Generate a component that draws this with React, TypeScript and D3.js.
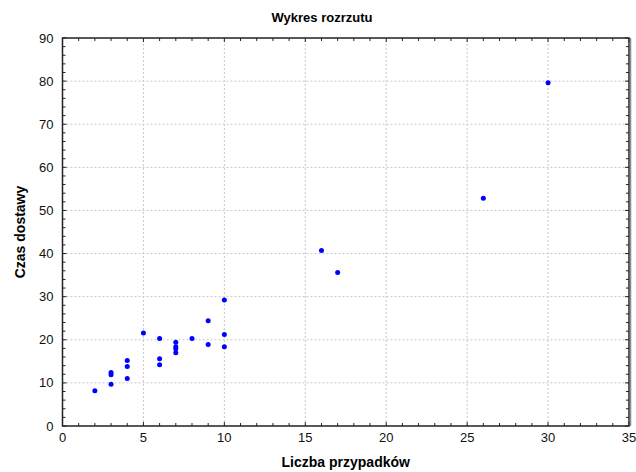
import React, { useEffect, useRef } from "react";
import * as d3 from "d3";

// Liczba przypadków vs czas dostawy
const cases = [2, 3, 3, 3, 4, 4, 4, 5, 6, 6, 6, 7, 7, 7, 7, 8, 9, 9, 10, 10, 10, 16, 17, 26, 30];
const times = [8.2, 9.7, 11.9, 12.4, 11.0, 13.8, 15.2, 21.6, 20.3, 15.6, 14.2, 19.4, 18.4, 17.9, 17.0, 20.3, 24.4, 18.9, 29.2, 21.2, 18.4, 40.7, 35.6, 52.8, 79.6];
const xTicks = [0, 5, 10, 15, 20, 25, 30, 35];
const yTicks = [0, 10, 20, 30, 40, 50, 60, 70, 80, 90];

const W = 636;
const H = 472;

const App = () => {
  const ref = useRef<SVGSVGElement | null>(null);

  useEffect(() => {
    const svg = d3.select(ref.current);
    svg.selectAll("*").remove();

    const margin = { top: 38, right: 7, bottom: 46, left: 62.5 };
    const x = d3.scaleLinear().domain([0, 35]).range([margin.left, W - margin.right]);
    const y = d3.scaleLinear().domain([0, 90]).range([H - margin.bottom, margin.top]);
    const font = "'Liberation Sans', Arial, sans-serif";

    svg.append("rect").attr("width", W).attr("height", H).attr("fill", "white");

    // grid
    const grid = svg.append("g").attr("stroke", "#c8c8c8").attr("stroke-dasharray", "2,2").attr("stroke-width", 1);
    xTicks.slice(1, -1).forEach((t) => {
      grid.append("line").attr("x1", x(t)).attr("x2", x(t)).attr("y1", y(0)).attr("y2", y(90));
    });
    yTicks.slice(1, -1).forEach((t) => {
      grid.append("line").attr("x1", x(0)).attr("x2", x(35)).attr("y1", y(t)).attr("y2", y(t));
    });

    // ticks (inside)
    const ticks = svg.append("g").attr("stroke", "#222").attr("stroke-width", 1);
    d3.range(0, 36, 1).forEach((t) => {
      const len = t % 5 === 0 ? 4 : 3;
      ticks.append("line").attr("x1", x(t)).attr("x2", x(t)).attr("y1", y(0)).attr("y2", y(0) - len);
      ticks.append("line").attr("x1", x(t)).attr("x2", x(t)).attr("y1", y(90)).attr("y2", y(90) + len);
    });
    d3.range(0, 91, 2).forEach((t) => {
      const len = t % 10 === 0 ? 4 : 3;
      ticks.append("line").attr("x1", x(0)).attr("x2", x(0) + len).attr("y1", y(t)).attr("y2", y(t));
      ticks.append("line").attr("x1", x(35)).attr("x2", x(35) - len).attr("y1", y(t)).attr("y2", y(t));
    });

    // frame
    svg
      .append("rect")
      .attr("x", x(0))
      .attr("y", y(90))
      .attr("width", x(35) - x(0))
      .attr("height", y(0) - y(90))
      .attr("fill", "none")
      .attr("stroke", "#222")
      .attr("stroke-width", 1.5);
    svg
      .append("line")
      .attr("x1", x(35) + 1.5)
      .attr("x2", x(35) + 1.5)
      .attr("y1", y(90))
      .attr("y2", y(0))
      .attr("stroke", "#8a8a8a")
      .attr("stroke-width", 1.5);

    // tick labels
    svg
      .append("g")
      .selectAll("text")
      .data(xTicks)
      .join("text")
      .attr("x", (d) => x(d))
      .attr("y", y(0) + 16)
      .attr("text-anchor", "middle")
      .style("font-family", font)
      .style("font-size", "13px")
      .attr("fill", "#111")
      .text((d) => d);

    svg
      .append("g")
      .selectAll("text")
      .data(yTicks)
      .join("text")
      .attr("x", x(0) - 9)
      .attr("y", (d) => y(d) + 4.5)
      .attr("text-anchor", "end")
      .style("font-family", font)
      .style("font-size", "13px")
      .attr("fill", "#111")
      .text((d) => d);

    // titles
    svg
      .append("text")
      .attr("x", 322)
      .attr("y", 22)
      .attr("text-anchor", "middle")
      .style("font-family", font)
      .style("font-size", "13px")
      .style("font-weight", "bold")
      .text("Wykres rozrzutu");

    svg
      .append("text")
      .attr("x", (x(0) + x(35)) / 2)
      .attr("y", 467)
      .attr("text-anchor", "middle")
      .style("font-family", font)
      .style("font-size", "14px")
      .style("font-weight", "bold")
      .text("Liczba przypadków");

    svg
      .append("text")
      .attr("transform", `translate(25,${(y(0) + y(90)) / 2}) rotate(-90)`)
      .attr("text-anchor", "middle")
      .style("font-family", font)
      .style("font-size", "14px")
      .style("font-weight", "bold")
      .text("Czas dostawy");

    // points
    svg
      .append("g")
      .selectAll("circle")
      .data(cases.map((c, i) => ({ c, t: times[i] })))
      .join("circle")
      .attr("cx", (d) => x(d.c))
      .attr("cy", (d) => y(d.t))
      .attr("r", 2.5)
      .attr("fill", "#0000ff");
  }, []);

  return (
    <div style={{ position: "absolute", left: 0, top: 0 }}>
      <svg ref={ref} width={W} height={H} />
    </div>
  );
};

export default App;
